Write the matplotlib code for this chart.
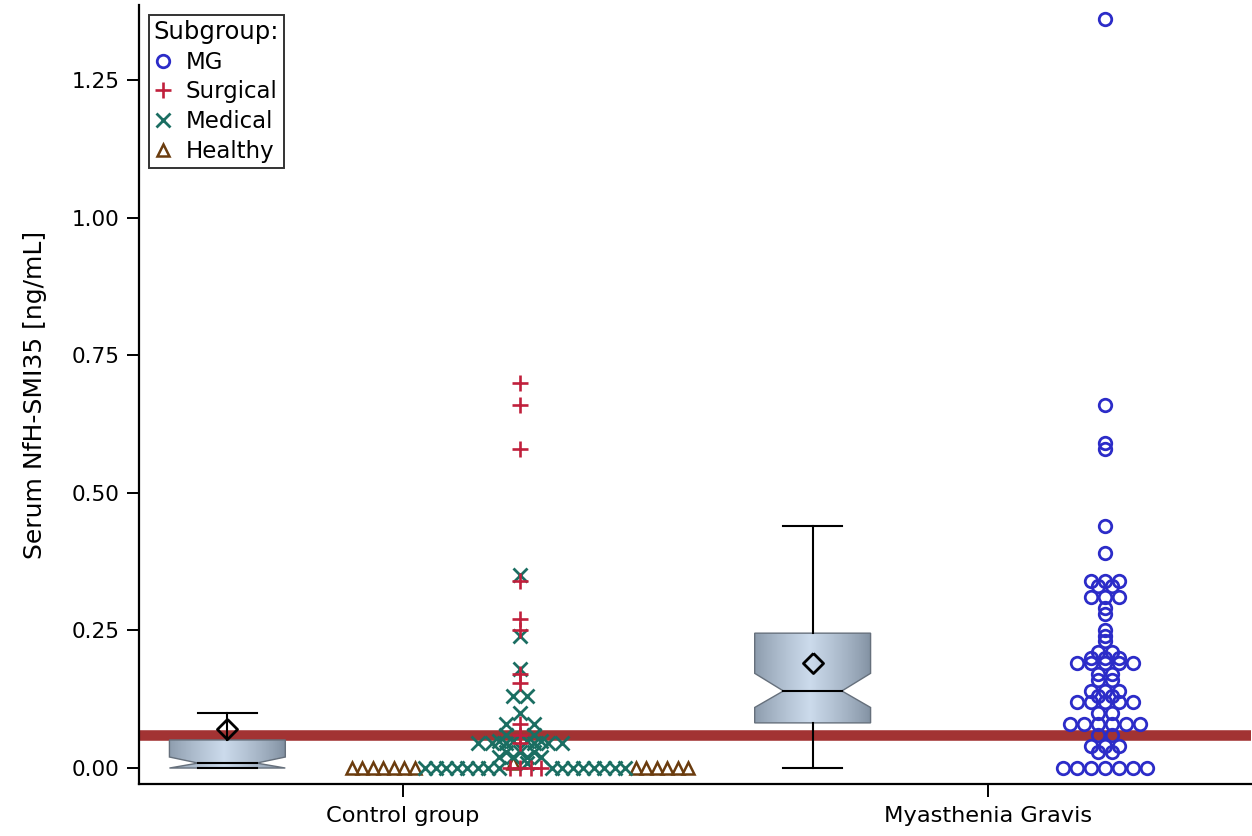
import numpy as np
import matplotlib
matplotlib.use("Agg")
import matplotlib.pyplot as plt
from matplotlib.lines import Line2D
from matplotlib.patches import Polygon
from collections import defaultdict

# ---------------- data ----------------
categories = ["Control group", "Myasthenia Gravis"]

# box statistics (per category)
box_q1 = [0.0, 0.082]
box_median = [0.009, 0.14]
box_q3 = [0.051, 0.245]
box_notch_lo = [0.0, 0.11]
box_notch_hi = [0.02, 0.172]
box_whisker_lo = [0.0, 0.0]
box_whisker_hi = [0.10, 0.44]
box_mean = [0.07, 0.19]

reference_value = 0.06

subgroups = ["MG", "Surgical", "Medical", "Healthy"]

mg_values = [1.36, 0.66, 0.59, 0.58, 0.44, 0.39,
             0.34, 0.34, 0.34, 0.33, 0.33, 0.31, 0.31, 0.31,
             0.29, 0.28, 0.25, 0.24, 0.23, 0.21, 0.21,
             0.20, 0.20, 0.20, 0.19, 0.19, 0.19, 0.19, 0.19,
             0.17, 0.17, 0.16, 0.16, 0.14, 0.14, 0.14, 0.13, 0.13,
             0.12, 0.12, 0.12, 0.12, 0.12, 0.10, 0.10,
             0.08, 0.08, 0.08, 0.08, 0.08, 0.08, 0.06, 0.06,
             0.04, 0.04, 0.04, 0.03, 0.03,
             0.0, 0.0, 0.0, 0.0, 0.0, 0.0, 0.0]
surgical_values = [0.70, 0.66, 0.58, 0.34, 0.27, 0.25, 0.17, 0.155, 0.08,
                   0.06, 0.045, 0.0, 0.0, 0.0, 0.0]
medical_values = [0.35, 0.24, 0.18, 0.13, 0.13, 0.10, 0.08, 0.08,
                  0.06, 0.06, 0.05, 0.05, 0.05, 0.05,
                  0.045, 0.045, 0.045, 0.045, 0.045, 0.045,
                  0.03, 0.03, 0.03, 0.02, 0.02, 0.02, 0.02, 0.01] + [0.0] * 16
healthy_values = [0.01] + [0.0] * 13

# ---------------- style ----------------
W, H = 1252, 836
fig = plt.figure(figsize=(W / 100, H / 100), dpi=100)
ax = fig.add_axes([139 / W, 1 - 784 / H, (1251 - 139) / W, (784 - 5) / H])
ax.set_xlim(-0.451, 1.449)
ax.set_ylim(-0.029, 1.386)

FS = 15.5
marker_style = {
    "MG": dict(marker="o", ms=9, mfc="none", mec="#2c2cc8", mew=2.0),
    "Surgical": dict(marker="+", ms=11, mec="#c0203c", mew=1.9),
    "Medical": dict(marker="x", ms=9.5, mec="#1b6e62", mew=2.0),
    "Healthy": dict(marker="^", ms=8.5, mfc="white", mec="#6b3c0e", mew=1.8),
}

BOX_OFF, SCAT_OFF = -0.3, 0.2
BOX_W, NARROW_W, CAP_W = 0.198, 0.10, 0.10
STEP_BIG, STEP_SMALL = 14 / 585, 10.5 / 585

# reference line
ax.axhline(reference_value, color="#a23333", lw=7.6, zorder=1)

# gradient for boxes
edge_rgb = np.array([128, 143, 160]) / 255
center_rgb = np.array([204, 219, 236]) / 255
t = np.linspace(0, 1, 256)
w = 1 - np.abs(t - 0.47) / 0.53
w = np.clip(w, 0, 1) ** 0.8
grad = edge_rgb[None, :] * (1 - w[:, None]) + center_rgb[None, :] * w[:, None]
grad = grad[None, :, :]

for i in range(len(categories)):
    c = i + BOX_OFF
    L, R = c - BOX_W / 2, c + BOX_W / 2
    nl, nr = c - NARROW_W / 2, c + NARROW_W / 2
    q1, q3, med = box_q1[i], box_q3[i], box_median[i]
    nlo, nhi = box_notch_lo[i], box_notch_hi[i]
    verts = [(L, q3), (R, q3), (R, nhi), (nr, med), (R, nlo), (R, q1),
             (L, q1), (L, nlo), (nl, med), (L, nhi)]
    poly = Polygon(verts, closed=True, fc="none", ec="#66707c", lw=1.0, zorder=3)
    ax.add_patch(poly)
    im = ax.imshow(grad, extent=(L, R, min(q1, nlo), q3), aspect="auto",
                   zorder=2, interpolation="bilinear")
    im.set_clip_path(poly)
    # whiskers
    ax.plot([c, c], [q3, box_whisker_hi[i]], color="black", lw=1.5, zorder=4)
    ax.plot([c, c], [box_whisker_lo[i], q1], color="black", lw=1.5, zorder=4)
    for wv in (box_whisker_lo[i], box_whisker_hi[i]):
        ax.plot([c - CAP_W / 2, c + CAP_W / 2], [wv, wv], color="black", lw=1.5, zorder=4)
    ax.plot([nl, nr], [med, med], color="black", lw=1.5, zorder=4)
    ax.plot([c], [box_mean[i]], marker=[(0, 1), (1, 0), (0, -1), (-1, 0), (0, 1)],
            ms=14.5, mfc="none", mec="black", mew=2.0, zorder=5)

ax.set_xlim(-0.451, 1.449)
ax.set_ylim(-0.029, 1.386)


def jitter(values, groups, order):
    rows = defaultdict(list)
    for k, v in enumerate(values):
        rows[v].append(k)
    offs = np.zeros(len(values))
    for v, idxs in rows.items():
        idxs.sort(key=lambda k: order.index(groups[k]))
        n = len(idxs)
        slots = sorted([j - (n - 1) / 2 for j in range(n)], key=lambda s: (abs(s), -s))
        step = STEP_SMALL if n > 15 else STEP_BIG
        for k, s in zip(idxs, slots):
            offs[k] = s * step
    return offs


# control group scatter
ctrl_vals = surgical_values + medical_values + healthy_values
ctrl_grp = (["Surgical"] * len(surgical_values) + ["Medical"] * len(medical_values)
            + ["Healthy"] * len(healthy_values))
offs = jitter(ctrl_vals, ctrl_grp, subgroups)
for g in ["Healthy", "Medical", "Surgical"]:
    xs = [0 + SCAT_OFF + o for o, gg in zip(offs, ctrl_grp) if gg == g]
    ys = [v for v, gg in zip(ctrl_vals, ctrl_grp) if gg == g]
    ax.plot(xs, ys, ls="none", zorder=6, **marker_style[g])

# MG scatter
mg_grp = ["MG"] * len(mg_values)
offs = jitter(mg_values, mg_grp, subgroups)
ax.plot(1 + SCAT_OFF + offs, mg_values, ls="none", zorder=6, **marker_style["MG"])

# axes
for s in ("top", "right"):
    ax.spines[s].set_visible(False)
for s in ("left", "bottom"):
    ax.spines[s].set_linewidth(1.6)
ax.set_xticks(range(len(categories)))
ax.set_xticklabels(categories, fontsize=16.2)
ax.set_yticks([0, 0.25, 0.5, 0.75, 1.0, 1.25])
ax.set_yticklabels(["0.00", "0.25", "0.50", "0.75", "1.00", "1.25"], fontsize=FS)
ax.tick_params(axis="both", length=9, width=1.4, direction="out")
ax.tick_params(axis="y", pad=5)
ax.tick_params(axis="x", pad=7)
ax.set_ylabel("Serum NfH-SMI35 [ng/mL]", fontsize=18, labelpad=18)

handles = [Line2D([], [], ls="none", **marker_style[g]) for g in subgroups]
leg = ax.legend(handles, subgroups, title="Subgroup:", loc="upper left",
                bbox_to_anchor=(0.009, 0.987), borderaxespad=0, fontsize=16.5,
                title_fontsize=17.5, alignment="left", frameon=True, fancybox=False,
                edgecolor="black", handlelength=0.8, handletextpad=0.6,
                labelspacing=0.3, borderpad=0.2)
leg.get_frame().set_linewidth(1.4)
leg.set_zorder(10)

fig.savefig("out.png", dpi=100)
